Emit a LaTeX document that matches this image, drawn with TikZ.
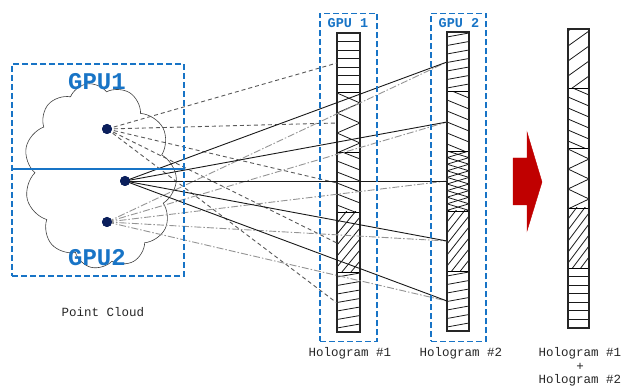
\documentclass[tikz,border=0pt]{standalone}
\usepackage{fontspec}
\setmonofont{Liberation Mono}
\usetikzlibrary{shapes.symbols}
\definecolor{gpublue}{HTML}{1874C6}
\definecolor{navy}{HTML}{0B1F5C}
\definecolor{arrowred}{HTML}{C00000}

% hatch fillings for one segment of a hologram column: x0, x1, ytop, ybottom
\newcommand{\hhoriz}[4]{\begin{scope}\clip (#1,#3) rectangle (#2,#4);
  \foreach \k in {1,...,6}{\draw[hatch] (#1,{#3+\k*60/7}) -- (#2,{#3+\k*60/7});}\end{scope}}
\newcommand{\hlow}[4]{\begin{scope}\clip (#1,#3) rectangle (#2,#4);
  \foreach \k in {0,...,8}{\draw[hatch] (#1,{#3+\k*8.5+5}) -- (#2,{#3+\k*8.5+1});}\end{scope}}
\newcommand{\hback}[4]{\begin{scope}\clip (#1,#3) rectangle (#2,#4);
  \foreach \k in {0,...,6}{\draw[hatch] (#1,{#3+\k*11-3}) -- (#2,{#3+\k*11+6});}\end{scope}}
\newcommand{\hmid}[4]{\begin{scope}\clip (#1,#3) rectangle (#2,#4);
  \foreach \k in {0,...,5}{\draw[hatch] (#1,{#3+\k*15+2}) -- (#2,{#3+\k*15-13});}\end{scope}}
\newcommand{\hsteep}[4]{\begin{scope}\clip (#1,#3) rectangle (#2,#4);
  \foreach \k in {0,...,9}{\draw[hatch] (#1,{#3+\k*11}) -- (#2,{#3+\k*11-28});}\end{scope}}
\newcommand{\hzig}[4]{\begin{scope}\clip (#1,#3) rectangle (#2,#4);
  \draw[hatch] (#1,#3) -- (#2,{#3+10}) -- (#1,{#3+20}) -- (#2,{#3+30})
    -- (#1,{#3+40}) -- (#2,{#3+50}) -- (#1,{#3+60});\end{scope}}
\newcommand{\hcross}[4]{\begin{scope}\clip (#1,#3) rectangle (#2,#4);
  \foreach \k in {0,...,4}{\draw[hatch] (#1,{#3+\k*13.2}) -- (#2,{#3+\k*13.2+6.6}) -- (#1,{#3+\k*13.2+13.2});
    \draw[hatch] (#2,{#3+\k*13.2}) -- (#1,{#3+\k*13.2+6.6}) -- (#2,{#3+\k*13.2+13.2});}\end{scope}}
% outline of a column with its segment borders: x0, x1, ytop, segment height
\newcommand{\colframe}[4]{%
  \foreach \k in {1,...,4}{\draw[segline] (#1,{#3+\k*#4}) -- (#2,{#3+\k*#4});}
  \draw[frame] (#1,#3) rectangle (#2,{#3+5*#4});}

\begin{document}
\begin{tikzpicture}[x=1pt,y=-1pt,
  hatch/.style={draw=black!90,line width=0.8pt},
  segline/.style={draw=black,line width=1.3pt},
  frame/.style={draw=black!85,line width=1.3pt},
  gpubox/.style={draw=gpublue,line width=1.6pt,dash pattern=on 6pt off 3pt},
  raydash/.style={draw=black!65,line width=0.9pt,dash pattern=on 4pt off 3pt},
  raysolid/.style={draw=black!90,line width=0.9pt},
  raydot/.style={draw=black!42,line width=0.9pt,dash pattern=on 7pt off 2pt on 1.5pt off 2pt},
  pt/.style={circle,fill=navy,inner sep=0pt,minimum size=10pt},
  gputext/.style={text=gpublue,font=\ttfamily\bfseries\fontsize{24}{24}\selectfont},
  coltext/.style={text=gpublue,font=\ttfamily\bfseries\fontsize{13.5}{14}\selectfont},
  lbl/.style={text=black!85,font=\ttfamily\fontsize{12.5}{13}\selectfont}]
\useasboundingbox (0,0) rectangle (622,387);

% point cloud outline
\node[cloud,cloud puffs=11,cloud puff arc=120,draw=black!75,line width=0.6pt,
  minimum width=152pt,minimum height=186pt,inner sep=0pt,rotate=8] (cloud) at (100,176) {};

% hologram #1
\hhoriz{337}{360}{33}{93}
\hzig{337}{360}{93}{153}
\hback{337}{360}{153}{212}
\hsteep{337}{360}{212}{272}
\hlow{337}{360}{272}{332}
\colframe{337}{360}{33}{59.8}
\node[inner sep=0pt,minimum width=23pt,minimum height=299pt] (holo1) at (348.5,182.5) {};

% hologram #2
\hlow{447}{469}{32}{92}
\hback{447}{469}{92}{151}
\hcross{447}{469}{151}{211}
\hsteep{447}{469}{211}{271}
\hlow{447}{469}{271}{331}
\colframe{447}{469}{32}{59.8}
\node[inner sep=0pt,minimum width=22pt,minimum height=299pt] (holo2) at (458,181.5) {};

% combined hologram
\hmid{568}{589}{29}{89}
\hback{568}{589}{89}{149}
\hzig{568}{589}{149}{208}
\hsteep{568}{589}{208}{268}
\hhoriz{568}{589}{268}{328}
\colframe{568}{589}{29}{59.8}
\node[inner sep=0pt,minimum width=21pt,minimum height=299pt] (holo3) at (578.5,178.5) {};

% points of the cloud
\node[pt] (p1) at (107,129) {};
\node[pt] (p2) at (125,181) {};
\node[pt] (p3) at (107,222) {};

% targets on the left edges of the holograms
\foreach \i/\y in {1/63,2/123,3/183,4/243,5/303}{\coordinate (a\i) at (337,\y);}
\foreach \i/\y in {1/62,2/122,3/181,4/241,5/301}{\coordinate (b\i) at (447,\y);}

% rays
\foreach \i in {1,...,5}{\draw[raydash] (p1.center) -- (a\i);}
\foreach \i in {1,...,5}{\draw[raydot] (p3.center) -- (b\i);}
\foreach \i in {1,...,5}{\draw[raysolid] (p2.center) -- (b\i);}
\node[pt] at (p1) {};
\node[pt] at (p2) {};
\node[pt] at (p3) {};

% GPU partitions
\node[gpubox,inner sep=0pt,minimum width=172pt,minimum height=212pt] (box0) at (98,170) {};
\draw[gpublue,line width=1.6pt] (box0.west |- 0,169) coordinate (s0) -- (box0.east |- 0,169) coordinate (s1);
\node[gpubox,inner sep=0pt,minimum width=57pt,minimum height=328pt] (box1) at (348.5,177.5) {};
\node[gpubox,inner sep=0pt,minimum width=55pt,minimum height=328pt] (box2) at (458.5,177.5) {};

% red arrow
\filldraw[arrowred] (513,158) -- (527,158) -- (527,132) -- (542,182)
  -- (527,231) -- (527,205) -- (513,205) -- cycle;

% texts
\node[gputext] (g1) at (97,82) {GPU1};
\node[gputext] (g2) at (97,258) {GPU2};
\node[coltext] (c1) at (348,23) {GPU 1};
\node[coltext] (c2) at (459,23) {GPU 2};
\node[lbl] (l0) at (103,312) {Point Cloud};
\node[lbl] (l1) at (350,353) {Hologram \#1};
\node[lbl] (l2) at (461,353) {Hologram \#2};
\node[lbl] (l3) at (580,353) {Hologram \#1};
\node[lbl] (l4) at (580,366.5) {+};
\node[lbl] (l5) at (580,380.5) {Hologram \#2};
\end{tikzpicture}
\end{document}
